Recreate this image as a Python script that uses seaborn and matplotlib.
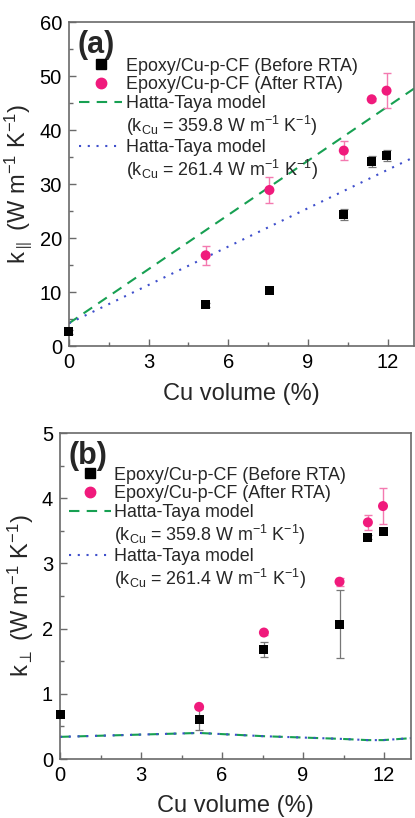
import numpy as np
import pandas as pd
import matplotlib
matplotlib.use("Agg")
import matplotlib.pyplot as plt
import seaborn as sns
from matplotlib.ticker import MultipleLocator
from matplotlib.lines import Line2D
from matplotlib.legend_handler import HandlerLine2D

# ---------------- data ----------------
cu_vol = [0.0, 5.15, 7.55, 10.35, 11.4, 11.96]

# panel (a): in-plane conductivity
a_before = [2.6, 7.6, 10.2, 24.4, 34.2, 35.3]
a_before_err = [0.3, 0.3, 0.3, 1.0, 1.0, 1.0]
a_after_x = [5.15, 7.55, 10.35, 11.4, 11.96]
a_after = [16.8, 28.9, 36.2, 45.7, 47.3]
a_after_err = [1.8, 2.4, 1.8, 0.3, 3.3]
a_model_x = [0.0, 13.0]
a_model_359 = [4.2, 47.7]
a_model_261 = [4.2, 35.0]

# panel (b): through-plane conductivity
b_before = [0.68, 0.60, 1.68, 2.07, 3.40, 3.49]
b_before_err = [0.02, 0.16, 0.12, 0.52, 0.03, 0.03]
b_after_x = [5.15, 7.55, 10.35, 11.4, 11.96]
b_after = [0.80, 1.94, 2.72, 3.63, 3.88]
b_after_err = [0.02, 0.03, 0.06, 0.12, 0.27]
b_model_x = [0.0, 5.15, 7.55, 10.35, 11.4, 11.96, 13.0]
b_model_359 = [0.34, 0.40, 0.35, 0.31, 0.29, 0.29, 0.32]
b_model_261 = [0.34, 0.40, 0.35, 0.31, 0.29, 0.29, 0.32]

labels = ["Epoxy/Cu-p-CF (Before RTA)", "Epoxy/Cu-p-CF (After RTA)",
          "Hatta-Taya model",
          "($\\mathregular{k_{Cu}}$ = 359.8 W m$^{\\mathregular{-1}}$ K$^{\\mathregular{-1}}$)",
          "Hatta-Taya model",
          "($\\mathregular{k_{Cu}}$ = 261.4 W m$^{\\mathregular{-1}}$ K$^{\\mathregular{-1}}$)"]

# ---------------- style ----------------
sns.set_theme(style="ticks")
plt.rcParams['font.family'] = ['Liberation Sans', 'DejaVu Sans']
plt.rcParams['mathtext.fontset'] = 'custom'
plt.rcParams['mathtext.rm'] = 'Liberation Sans'
plt.rcParams['mathtext.it'] = 'Liberation Sans'
plt.rcParams['mathtext.bf'] = 'Liberation Sans:bold'

PINK = '#F01A7C'
GREEN = '#17A052'
BLUE = '#3F4FCC'
SPINE = '#6a6a6a'


class MarkerAt(HandlerLine2D):
    def __init__(self, frac, **kw):
        super().__init__(numpoints=1, **kw)
        self.frac = frac

    def get_xdata(self, legend, xdescent, ydescent, width, height, fontsize):
        xdata = np.array([-xdescent, -xdescent + width])
        return xdata, np.array([-xdescent + self.frac * width])


fig = plt.figure(figsize=(4.15, 8.18), dpi=100)
ax_a = fig.add_axes([0.166, 0.577, 0.832, 0.396])
ax_b = fig.add_axes([0.1446, 0.0721, 0.846, 0.3985])


def draw(ax, before, before_err, after_x, after, after_err, mx, m359, m261):
    df_m = pd.DataFrame({"x": list(mx) * 2,
                         "y": list(m359) + list(m261),
                         "model": ["359"] * len(mx) + ["261"] * len(mx)})
    sns.lineplot(data=df_m[df_m.model == "359"], x="x", y="y", ax=ax,
                 color=GREEN, lw=1.5, linestyle=(0, (5, 3.5)), legend=False, zorder=2)
    h_green = ax.lines[-1]
    sns.lineplot(data=df_m[df_m.model == "261"], x="x", y="y", ax=ax,
                 color=BLUE, lw=1.5, linestyle=(0, (1, 3.2)), legend=False, zorder=2)
    h_blue = ax.lines[-1]
    ax.errorbar(cu_vol, before, yerr=before_err, fmt='none', ecolor='#777777',
                elinewidth=0.9, capsize=3, capthick=0.9, zorder=3)
    ax.errorbar(after_x, after, yerr=after_err, fmt='none', ecolor='#F47AB0',
                elinewidth=1.0, capsize=3, capthick=1.0, zorder=3)
    sns.scatterplot(x=cu_vol, y=before, ax=ax, marker='s', color='black', s=42,
                    edgecolor='none', zorder=4, legend=False, clip_on=False)
    sns.scatterplot(x=after_x, y=after, ax=ax, marker='o', color=PINK, s=52,
                    edgecolor='none', zorder=5, legend=False, clip_on=False)
    h_sq = Line2D([], [], marker='s', color='black', linestyle='none', markersize=6.5)
    h_ci = Line2D([], [], marker='o', color=PINK, linestyle='none', markersize=7.5)
    blank = Line2D([], [], linestyle='none')
    return [h_sq, h_ci, h_green, blank, h_blue, blank]


def style(ax, ymax, ymajor, yminor, ylab, tag, xlabpad):
    ax.set_xlim(0, 13)
    ax.set_ylim(0, ymax)
    ax.xaxis.set_major_locator(MultipleLocator(3))
    ax.xaxis.set_minor_locator(MultipleLocator(1.5))
    ax.yaxis.set_major_locator(MultipleLocator(ymajor))
    ax.yaxis.set_minor_locator(MultipleLocator(yminor))
    ax.tick_params(which='both', direction='in', top=False, right=False,
                   colors=SPINE, labelcolor='black', labelsize=14.5, width=1.0)
    ax.tick_params(which='major', length=5, pad=5)
    ax.tick_params(which='minor', length=3)
    for sp in ax.spines.values():
        sp.set_visible(True)
        sp.set_color(SPINE)
        sp.set_linewidth(1.2)
    ax.set_xlabel("Cu volume (%)", fontsize=17, labelpad=xlabpad)
    ax.set_ylabel(ylab, fontsize=17, labelpad=4)
    ax.text(0.025, 0.975, tag, transform=ax.transAxes, fontsize=22,
            fontweight='bold', va='top', ha='left')


def legend(ax, handles, frac, anchor_x, anchor_y, hlen):
    ax.legend(handles, labels, loc='upper left', bbox_to_anchor=(anchor_x, anchor_y),
              frameon=False, fontsize=12.9, handlelength=hlen, handletextpad=0.2,
              labelspacing=0.09, borderaxespad=0, borderpad=0,
              handler_map={handles[0]: MarkerAt(frac),
                           handles[1]: MarkerAt(frac)})


h = draw(ax_a, a_before, a_before_err, a_after_x, a_after, a_after_err,
         a_model_x, a_model_359, a_model_261)
style(ax_a, 60, 10, 5, "k$_{\\parallel}$ (W m$^{\\mathregular{-1}}$ K$^{\\mathregular{-1}}$)", "(a)", 8)
legend(ax_a, h, 0.2, 0.03, 0.89, 2.4)

h = draw(ax_b, b_before, b_before_err, b_after_x, b_after, b_after_err,
         b_model_x, b_model_359, b_model_261)
style(ax_b, 5, 1, 0.5, "k$_{\\perp}$ (W m$^{\\mathregular{-1}}$ K$^{\\mathregular{-1}}$)", "(b)", 7)
legend(ax_b, h, 0.5, 0.025, 0.897, 2.35)

fig.savefig("out.png", dpi=100)
